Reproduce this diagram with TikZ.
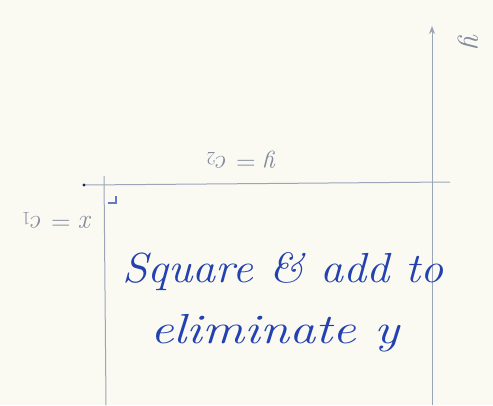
\documentclass[tikz,border=0pt]{standalone}
\usetikzlibrary{arrows.meta}
\definecolor{paper}{RGB}{250,250,242}
\definecolor{pencil}{RGB}{155,165,186}
\definecolor{ink}{RGB}{35,65,175}
\begin{document}
\begin{tikzpicture}[x=1pt,y=-1pt,
  pencilline/.style={draw=pencil,line width=1pt},
  pencillabel/.style={text=pencil!85!black,font=\fontsize{27}{29}\selectfont,inner sep=0pt},
  inktext/.style={text=ink,font=\fontsize{42}{48}\selectfont\itshape,inner sep=0pt}]
\fill[paper] (0,0) rectangle (493,405);
\useasboundingbox (0,0) rectangle (493,405);
% axis
\coordinate (ybot) at (432,405);
\coordinate (ytop) at (432,26);
\draw[pencilline,-{Stealth[length=8pt,width=6pt,fill=ink!70]}] (ybot) -- (ytop);
\node[pencillabel,rotate=-90,font=\fontsize{32}{34}\selectfont\itshape] (ylab) at (468,40) {y};
% horizontal line y = c2
\coordinate (hl) at (84,185);
\coordinate (hr) at (450,182);
\draw[pencilline] (hl) -- (hr);
\fill[ink!60!black] (hl) circle (1.6);
\node[pencillabel,rotate=180] (yc) at (242,160) {\textit{y} = \textit{c}\textsubscript{2}};
% vertical line x = c1
\coordinate (vt) at (104,176);
\coordinate (vb) at (106,405);
\draw[pencilline] (vt) -- (vb);
\node[pencillabel,rotate=180] (xc) at (57,220) {\textit{x} = \textit{c}\textsubscript{1}};
% right-angle mark
\draw[ink!70,line width=1.2pt] (108,203) -- (116,203) -- (116,196);
% handwritten text
\node[inktext,anchor=base west] (l1) at (122,282) {\scalebox{1.1}[1]{Square \& add to}};
\node[inktext,anchor=base west] (l2) at (150,343) {\scalebox{1.25}[1]{eliminate y}};
\end{tikzpicture}
\end{document}
